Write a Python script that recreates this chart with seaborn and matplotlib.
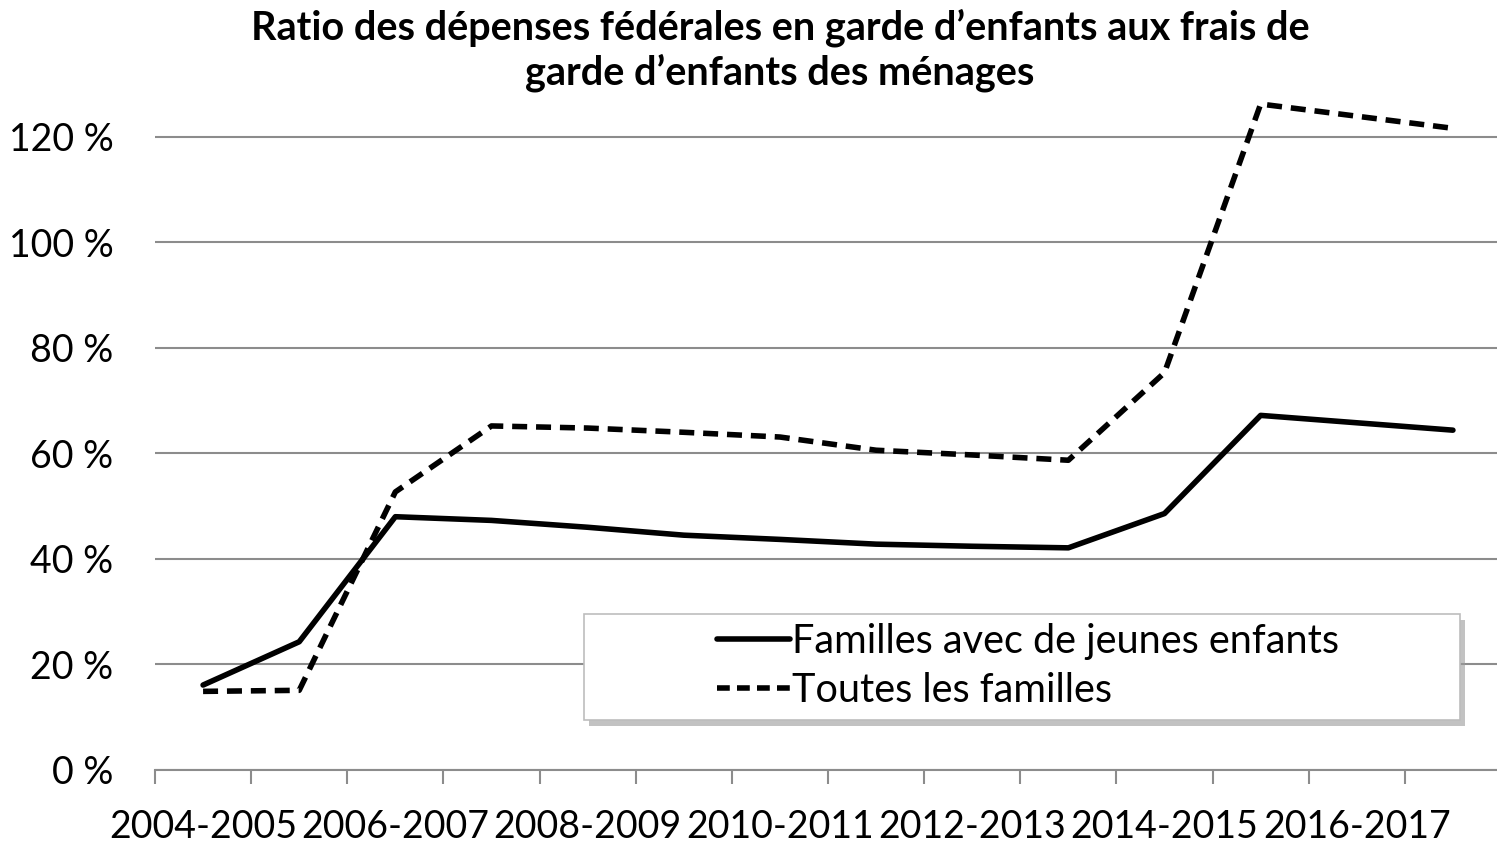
import pandas as pd
import matplotlib.pyplot as plt
import seaborn as sns
from matplotlib.patches import FancyBboxPatch
from matplotlib.ticker import FixedLocator

# --- DATA ---
PERIODS = ['2004-2005', '2005-2006', '2006-2007', '2007-2008', '2008-2009',
           '2009-2010', '2010-2011', '2011-2012', '2012-2013', '2013-2014',
           '2014-2015', '2015-2016', '2016-2017', '2017-2018']
JEUNES = [16.1, 24.3, 48.0, 47.3, 46.0, 44.5, 43.7, 42.8, 42.4, 42.1,
          48.6, 67.2, 65.8, 64.4]
TOUTES = [14.9, 15.1, 52.7, 65.2, 64.8, 64.0, 63.1, 60.6, 59.7, 58.7,
          75.3, 126.2, 123.9, 121.6]
LABELS = ['Familles avec de jeunes enfants', 'Toutes les familles']
Y_TICKS = [0, 20, 40, 60, 80, 100, 120]

TITLE = "Ratio des dépenses fédérales en garde d\u2019enfants aux frais de\ngarde d\u2019enfants des ménages"

sns.set_theme(style="white")
plt.rcParams['font.family'] = ['Lato', 'DejaVu Sans']
plt.rcParams['text.color'] = 'black'

df = pd.concat([
    pd.DataFrame({'periode': PERIODS, 'ratio': JEUNES, 'serie': LABELS[0]}),
    pd.DataFrame({'periode': PERIODS, 'ratio': TOUTES, 'serie': LABELS[1]}),
], ignore_index=True)
df['pos'] = df['periode'].map({p: i for i, p in enumerate(PERIODS)})

fig = plt.figure(figsize=(14.97, 8.43), dpi=100)
ax = fig.add_axes([155 / 1497, 73 / 843, 1346 / 1497, 686 / 843])

sns.lineplot(
    data=df, x='pos', y='ratio', hue='serie', style='serie',
    palette={LABELS[0]: 'black', LABELS[1]: 'black'},
    dashes={LABELS[0]: '', LABELS[1]: (2.7, 1.6)},
    linewidth=4, legend=False, ax=ax,
)

ax.set_xlim(-0.5, len(PERIODS) - 0.5)
ax.set_ylim(0, 130)
ax.set_yticks(Y_TICKS)
ax.set_yticklabels([f'{v} %' for v in Y_TICKS])
ax.set_xticks(range(0, len(PERIODS), 2))
ax.set_xticklabels(PERIODS[::2])
ax.xaxis.set_minor_locator(FixedLocator([i - 0.5 for i in range(len(PERIODS) + 1)]))
ax.set_xlabel('')
ax.set_ylabel('')

ax.grid(axis='y', color='#8c8c8c', linewidth=1.5)
ax.set_axisbelow(True)
for side in ['top', 'right', 'left']:
    ax.spines[side].set_visible(False)
ax.spines['bottom'].set_color('#8c8c8c')
ax.spines['bottom'].set_linewidth(1.5)

ax.tick_params(axis='x', which='major', length=0, pad=28, labelsize=27, colors='black')
ax.tick_params(axis='x', which='minor', bottom=True, length=10, width=1.5, color='#8c8c8c')
ax.tick_params(axis='y', length=0, pad=30, labelsize=27, colors='black')

# legend box with shadow
box = FancyBboxPatch((584 / 1497, 1 - 720 / 843), 876 / 1497, 106 / 843,
                     boxstyle='square,pad=0', transform=fig.transFigure,
                     facecolor='white', edgecolor='#bdbdbd', linewidth=1.2, zorder=5)
shadow = FancyBboxPatch((589 / 1497, 1 - 726 / 843), 876 / 1497, 106 / 843,
                        boxstyle='square,pad=0', transform=fig.transFigure,
                        facecolor='#9a9a9a', edgecolor='none', alpha=0.6, zorder=4)
fig.patches.extend([shadow, box])

handles = [plt.Line2D([], [], color='black', lw=4),
           plt.Line2D([], [], color='black', lw=4, linestyle=(0, (2.3, 1.3)))]
leg = fig.legend(handles, LABELS, loc='center left',
                 bbox_to_anchor=(697 / 1497, 1 - 666 / 843),
                 frameon=False, fontsize=28.5, handlelength=1.85,
                 handletextpad=0.05, labelspacing=0.3, borderpad=0,
                 labelcolor='black')
leg.set_zorder(6)

fig.text(780 / 1497, 1 - 8 / 843, TITLE, ha='center', va='top', color='black',
         fontsize=28.5, fontweight='bold', linespacing=1.22)

plt.savefig('out.png', dpi=100)
